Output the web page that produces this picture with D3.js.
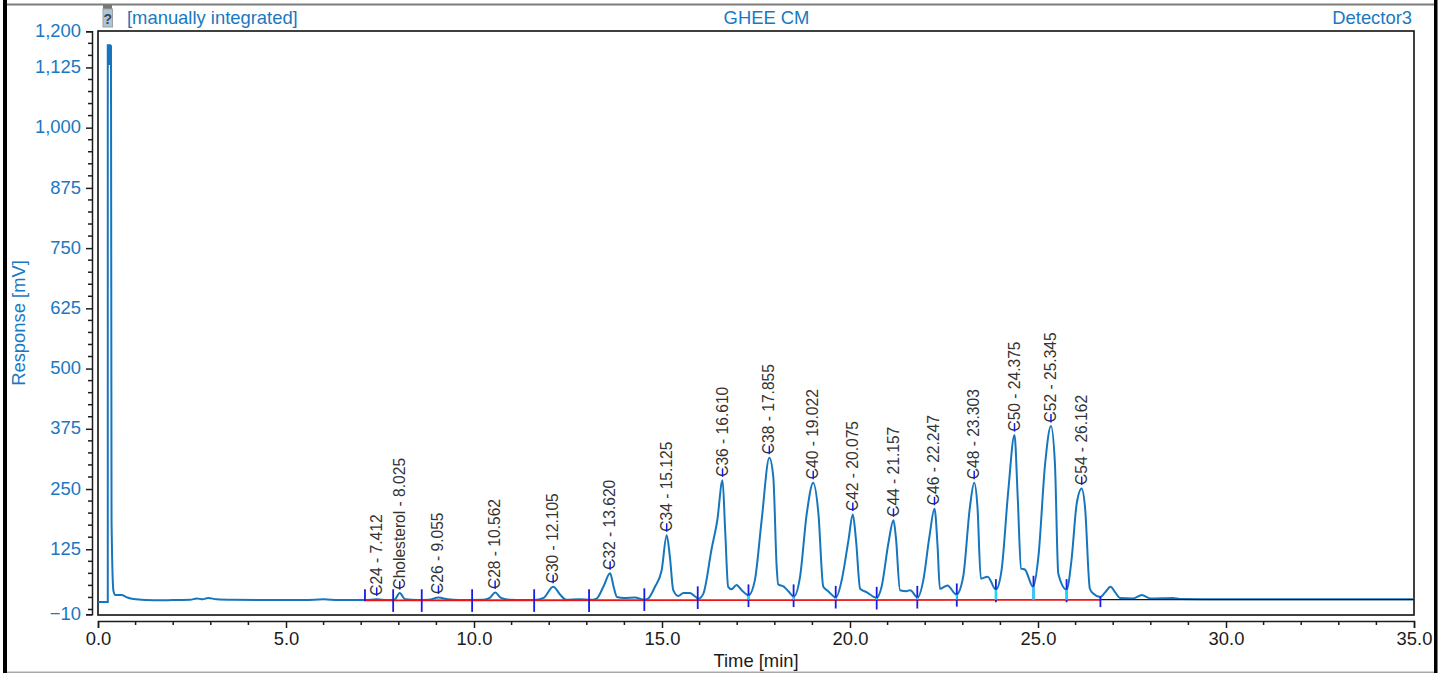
<!DOCTYPE html>
<html>
<head>
<meta charset="utf-8">
<title>GHEE CM</title>
<script src="https://cdn.jsdelivr.net/npm/d3@7"></script>
<style>
    html, body { margin: 0; padding: 0; background: #fff; overflow: hidden; }
    svg { display: block; }
    text { font-family: "Liberation Sans", Arial, sans-serif; }
</style>
</head>
<body>
<svg id="chart" width="1447" height="673"></svg>
<script>
// Injektions-Spitze am Anfang (Hin und Her, daher eigene Linie)
const spikeTimes = [0, 0.25, 0.26, 0.26, 0.345];
const spikeValues = [15.6, 15.6, 15.6, 1171, 1171];
// oberes Ende der Spitze ist zugelaufen
const capTimes = [0.303, 0.303];
const capValues = [1171, 1130];

// Chromatogramm
const traceTimes = [
    0.345, 0.36, 0.41, 0.46, 0.56, 0.62, 0.78, 1.0, 1.5, 2.0, 2.45, 2.63, 2.78, 2.93, 3.15, 3.6, 4.5, 5.5, 6.0, 6.4, 7.1,
    7.412, 7.7, 7.88, 8.025, 8.17, 8.5, 8.8, 9.055, 9.3, 9.6, 10.25, 10.42, 10.562, 10.72, 10.95, 11.3, 11.6,
    11.85, 12.105, 12.3, 12.45, 12.8, 13.1, 13.26, 13.44, 13.62, 13.72, 13.8, 14.0, 14.28, 14.53,
    14.63, 14.81, 14.99, 15.125, 15.21, 15.30, 15.43, 15.57, 15.74, 15.88, 15.97,
    16.10, 16.32, 16.47, 16.61, 16.68, 16.76, 16.85, 16.98, 17.12, 17.30,
    17.47, 17.65, 17.855, 17.96, 18.05, 18.09, 18.23, 18.36, 18.51,
    18.67, 18.85, 19.022, 19.16, 19.29, 19.42, 19.63,
    19.78, 19.96, 20.075, 20.16, 20.27, 20.44, 20.71,
    20.84, 21.02, 21.157, 21.22, 21.33, 21.50, 21.6, 21.8,
    21.95, 22.11, 22.247, 22.33, 22.39, 22.59, 22.83,
    23.01, 23.19, 23.303, 23.39, 23.48, 23.66, 23.88,
    24.03, 24.21, 24.375, 24.46, 24.55, 24.65, 24.87,
    25.01, 25.19, 25.345, 25.45, 25.54, 25.76,
    25.89, 26.03, 26.162, 26.25, 26.38, 26.47, 26.65,
    26.79, 26.93, 27.05, 27.18, 27.54, 27.76, 27.98, 28.59, 28.77, 30.0, 35.0
];
const traceValues = [
    1171, 185, 39, 30, 30, 30, 25, 21, 19, 19.5, 20, 23, 21, 24, 21, 20, 19.5, 19.5, 21, 19.5, 19.5,
    21, 19.5, 20, 34, 21, 19.5, 20, 25, 21, 19.5, 20, 24, 35, 24, 20, 19.5, 19.5,
    24, 47, 30, 20, 21, 20, 22.6, 47, 75, 45, 26, 24, 25, 20,
    22.6, 46.7, 81, 154, 109, 40, 28, 34, 34, 27, 22.5,
    33, 126, 185, 268, 164, 47, 42, 51, 40, 29.5,
    61, 185, 315, 275, 88, 52, 48, 38, 27,
    67, 199, 263, 199, 47, 38, 25,
    61, 144, 197, 144, 43, 36, 24,
    47, 137, 185, 150, 40, 38, 40, 25,
    61, 150, 209, 130, 43, 50, 31,
    68, 213, 263, 213, 64, 68, 41,
    81, 247, 362, 234, 85, 83, 47,
    109, 303, 381, 303, 74, 41,
    102, 220, 251, 213, 43, 33, 26,
    36, 47, 36, 24, 23, 30, 23, 24, 22, 21, 21
];

// Peak-Beschriftungen
const peakNames = ['C24', 'Cholesterol', 'C26', 'C28', 'C30', 'C32', 'C34', 'C36', 'C38', 'C40', 'C42', 'C44', 'C46', 'C48', 'C50', 'C52', 'C54'];
const peakTimes = [7.412, 8.025, 9.055, 10.562, 12.105, 13.62, 15.125, 16.61, 17.855, 19.022, 20.075, 21.157, 22.247, 23.303, 24.375, 25.345, 26.162];
const peakValues = [21, 34, 25, 35, 47, 75, 154, 268, 315, 263, 197, 185, 209, 263, 362, 381, 251];

// Integrationsgrenzen (blaue Striche)
const boundTimes = [7.10, 7.85, 8.61, 9.95, 11.60, 13.06, 14.53, 15.95, 17.30, 18.50, 19.62, 20.71, 21.79, 22.84, 23.88, 24.88, 25.76, 26.66];
const boundTops = [42, 42, 42, 42, 42, 42, 44, 48, 52, 52, 49, 47, 49, 54, 63, 70, 63, 27];
const boundBottoms = [17, -5, -5, -5, -5, -5, -3, 1, 5, 5, 2, 0, 2, 6, 15, 20, 15, 5];

// Fusspunkte der Peaks: tuerkis zwischen Kurve und Basislinie
const dropTimes = [17.30, 18.50, 19.62, 20.71, 21.79, 22.84, 23.88, 24.88, 25.76];
const dropValues = [29, 27, 25, 24, 25, 31, 41, 47, 41];
const dropWidths = [1.5, 1.5, 1.5, 1.5, 1.5, 1.5, 2.5, 2.5, 2.5];

// Basislinie
const baseTimes = [7.10, 26.66];
const baseValues = [19, 20];
const tailTimes = [26.66, 35];
const tailValues = [20.5, 20.5];

const yMajor = [-10, 125, 250, 375, 500, 625, 750, 875, 1000, 1125, 1200];
const yMinor = [1175, 1150, 1100, 1075, 1050, 1025, 975, 950, 925, 900, 850, 825, 800, 775, 725, 700, 675, 650, 600, 575, 550, 525, 475, 450, 425, 400, 350, 325, 300, 275, 225, 200, 175, 150, 100, 75, 50, 25, 0];
const xMajor = [0, 5, 10, 15, 20, 25, 30, 35];
const xMinor = [1, 2, 3, 4, 6, 7, 8, 9, 11, 12, 13, 14, 16, 17, 18, 19, 21, 22, 23, 24, 26, 27, 28, 29, 31, 32, 33, 34];

const BLUE = '#1a78c2';
const TRACE = '#1676bd';
const MARK = '#1a1ae6';
const INK = '#1c1c1c';

const svg = d3.select('#chart');

const box = { left: 98, right: 1414, top: 31, bottom: 615 };
const x = d3.scaleLinear().domain([0, 35]).range([box.left, box.right]);
const y = d3.scaleLinear().domain([-10, 1200]).range([614.3, 31.3]);

// Fensterrahmen
svg.append('rect').attr('x', 7).attr('y', 3.5).attr('width', 1427).attr('height', 2).attr('fill', '#7c7c7c');
svg.append('rect').attr('x', 3).attr('y', 0).attr('width', 4).attr('height', 673).attr('fill', '#000');
svg.append('rect').attr('x', 1434).attr('y', 0).attr('width', 3.5).attr('height', 673).attr('fill', '#000');
svg.append('rect').attr('x', 7).attr('y', 671.5).attr('width', 1427).attr('height', 1.5).attr('fill', '#aaa');

// Kopfzeile
svg.append('text').attr('x', 127).attr('y', 24).attr('fill', BLUE).style('font-size', '18.4px').text('[manually integrated]');
svg.append('text').attr('x', 766.5).attr('y', 24).attr('text-anchor', 'middle').attr('fill', BLUE).style('font-size', '18.4px').text('GHEE CM');
svg.append('text').attr('x', 1412).attr('y', 24).attr('text-anchor', 'end').attr('fill', BLUE).style('font-size', '18.4px').text('Detector3');

// Status-Symbol
const icon = svg.append('g').attr('transform', 'translate(102,5)');
icon.append('rect').attr('x', 1).attr('width', 9).attr('height', 4).attr('fill', '#777');
icon.append('rect').attr('x', 1).attr('y', 4).attr('width', 9.5).attr('height', 18).attr('fill', '#a9c6da').attr('stroke', '#a0a0a0').attr('stroke-width', 1);
icon.append('text').attr('x', 5.7).attr('y', 19).attr('text-anchor', 'middle').attr('fill', '#444').style('font-size', '14px').style('font-weight', '700').text('?');

// Zeichenflaeche
svg.append('rect')
    .attr('x', box.left).attr('y', box.top)
    .attr('width', box.right - box.left).attr('height', box.bottom - box.top)
    .attr('fill', '#fff').attr('stroke', '#111').attr('stroke-width', 1.6);

// Y-Achse
const yAxisG = svg.append('g').attr('transform', 'translate(92,0)');
yAxisG.call(d3.axisLeft(y).tickValues(yMajor).tickSize(6).tickPadding(5).tickFormat(d3.format(',')));
yAxisG.select('.domain').attr('stroke', INK).attr('stroke-width', 1.5);
yAxisG.selectAll('.tick line').attr('stroke', INK).attr('stroke-width', 1.5);
yAxisG.selectAll('.tick text').attr('fill', BLUE).attr('dy', '0.28em').style('font-size', '18.4px').style('font-family', '"Liberation Sans", Arial, sans-serif');
yAxisG.selectAll('.minor').data(yMinor).enter().append('line')
    .attr('x1', -4).attr('x2', 0)
    .attr('y1', d => y(d)).attr('y2', d => y(d))
    .attr('stroke', INK).attr('stroke-width', 1.5);

svg.append('text')
    .attr('transform', 'translate(25,323) rotate(-90)')
    .attr('text-anchor', 'middle').attr('fill', BLUE)
    .style('font-size', '18.4px').text('Response [mV]');

// X-Achse
const xAxisG = svg.append('g').attr('transform', 'translate(0,621)');
xAxisG.call(d3.axisBottom(x).tickValues(xMajor).tickSize(7).tickPadding(4).tickFormat(d3.format('.1f')));
xAxisG.select('.domain').attr('stroke', INK).attr('stroke-width', 1.5);
xAxisG.selectAll('.tick line').attr('stroke', INK).attr('stroke-width', 1.5);
xAxisG.selectAll('.tick text').attr('fill', INK).style('font-size', '18.4px').style('font-family', '"Liberation Sans", Arial, sans-serif');
xAxisG.selectAll('.minor').data(xMinor).enter().append('line')
    .attr('x1', d => x(d)).attr('x2', d => x(d))
    .attr('y1', 0).attr('y2', 4)
    .attr('stroke', INK).attr('stroke-width', 1.5);

svg.append('text')
    .attr('x', 756).attr('y', 667).attr('text-anchor', 'middle').attr('fill', INK)
    .style('font-size', '18.4px').text('Time [min]');

// Kurve
const spikeLine = d3.line().x(d => x(d[0])).y(d => y(d[1]));
const traceLine = d3.line().x(d => x(d[0])).y(d => y(d[1])).curve(d3.curveMonotoneX);

svg.append('path')
    .attr('d', spikeLine(spikeTimes.map((t, i) => [t, spikeValues[i]])))
    .attr('fill', 'none').attr('stroke', TRACE).attr('stroke-width', 2);
svg.append('path')
    .attr('d', spikeLine(capTimes.map((t, i) => [t, capValues[i]])))
    .attr('fill', 'none').attr('stroke', TRACE).attr('stroke-width', 4);
svg.append('path')
    .attr('d', traceLine(traceTimes.map((t, i) => [t, traceValues[i]])))
    .attr('fill', 'none').attr('stroke', TRACE).attr('stroke-width', 2).attr('stroke-linejoin', 'round');

// Basislinie (rot) und Rest (schwarz)
svg.append('path')
    .attr('d', spikeLine(baseTimes.map((t, i) => [t, baseValues[i]])))
    .attr('fill', 'none').attr('stroke', '#f01414').attr('stroke-width', 1.8);
svg.append('path')
    .attr('d', spikeLine(tailTimes.map((t, i) => [t, tailValues[i]])))
    .attr('fill', 'none').attr('stroke', '#0a1a2a').attr('stroke-width', 1.2);

// Integrationsgrenzen
svg.selectAll('.bound')
    .data(boundTimes)
    .enter()
    .append('line')
    .attr('class', 'bound')
    .attr('x1', d => x(d)).attr('x2', d => x(d))
    .attr('y1', (d, i) => y(boundTops[i]))
    .attr('y2', (d, i) => y(boundBottoms[i]))
    .attr('stroke', MARK).attr('stroke-width', 1.8);

svg.selectAll('.drop')
    .data(dropTimes)
    .enter()
    .append('line')
    .attr('class', 'drop')
    .attr('x1', d => x(d)).attr('x2', d => x(d))
    .attr('y1', (d, i) => y(dropValues[i]))
    .attr('y2', y(20))
    .attr('stroke', '#22d4f4')
    .attr('stroke-width', (d, i) => dropWidths[i]);

// Peak-Beschriftung
const peaks = svg.selectAll('.peak')
    .data(peakTimes)
    .enter()
    .append('g')
    .attr('class', 'peak')
    .attr('transform', (d, i) => `translate(${x(d)},${y(peakValues[i]) - 3.5})`);

peaks.append('text')
    .attr('transform', 'translate(5,0) scale(1.08,1) rotate(-90)')
    .attr('fill', '#333')
    .style('font-size', '15.6px')
    .text((d, i) => `${peakNames[i]} - ${d3.format('.3f')(d)}`);

peaks.append('line')
    .attr('x1', 0).attr('x2', 0)
    .attr('y1', -8.5).attr('y2', 0)
    .attr('stroke', MARK).attr('stroke-width', 1.5);
</script>
</body>
</html>
